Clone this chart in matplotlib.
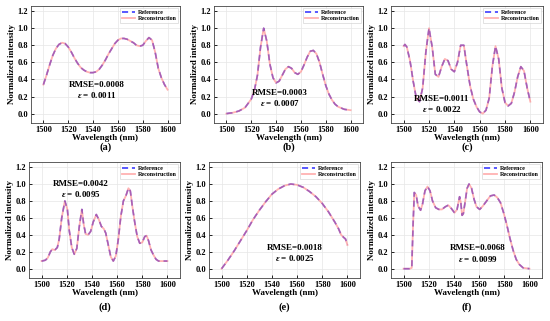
import matplotlib
matplotlib.use("Agg")
from matplotlib import pyplot as plt

plt.rcParams['font.family'] = ['Liberation Serif', 'DejaVu Serif']
plt.rcParams['font.weight'] = 'bold'
plt.rcParams['mathtext.fontset'] = 'custom'
plt.rcParams['mathtext.it'] = 'Liberation Serif:italic:bold'
plt.rcParams['mathtext.rm'] = 'Liberation Serif:bold'

# (a)
wl_a = [1500, 1502.5, 1505, 1507.5, 1510, 1512.5, 1515, 1517.5, 1520, 1522.5, 1525, 1527.5,
        1530, 1532.5, 1535, 1537.5, 1540, 1542.5, 1545, 1547.5, 1550, 1552.5, 1555, 1557.5,
        1560, 1562.5, 1565, 1567.5, 1570, 1572.5, 1575, 1577.5, 1580, 1582.5, 1585, 1587.5,
        1590, 1592.5, 1595, 1597.5, 1600]
int_a = [0.34, 0.45, 0.57, 0.68, 0.76, 0.81, 0.83, 0.82, 0.78, 0.72, 0.65, 0.59,
         0.54, 0.51, 0.49, 0.48, 0.48, 0.49, 0.52, 0.57, 0.63, 0.70, 0.76, 0.82,
         0.86, 0.88, 0.88, 0.87, 0.85, 0.83, 0.80, 0.79, 0.80, 0.85, 0.89, 0.86,
         0.72, 0.53, 0.42, 0.34, 0.28]

# (b)
wl_b = [1500, 1505, 1510, 1515, 1520, 1522.5, 1525, 1527.5, 1530, 1532.5, 1535, 1537.5,
        1540, 1542.5, 1545, 1547.5, 1550, 1552.5, 1555, 1557.5, 1560, 1562.5, 1565, 1567.5,
        1570, 1572.5, 1575, 1577.5, 1580, 1582.5, 1585, 1587.5, 1590, 1595, 1600]
int_b = [0.00, 0.01, 0.03, 0.07, 0.17, 0.27, 0.45, 0.78, 1.00, 0.85, 0.58, 0.42,
         0.36, 0.38, 0.45, 0.52, 0.55, 0.53, 0.48, 0.46, 0.49, 0.57, 0.66, 0.73,
         0.74, 0.70, 0.60, 0.46, 0.33, 0.23, 0.16, 0.11, 0.08, 0.05, 0.04]

# (c)
wl_c = [1500, 1501, 1502.5, 1505, 1507.5, 1510, 1512.5, 1515, 1517.5, 1520, 1522.5, 1525,
        1527.5, 1530, 1532.5, 1535, 1537.5, 1540, 1542.5, 1545, 1547.5, 1550, 1552.5, 1555,
        1557.5, 1560, 1562.5, 1565, 1567.5, 1570, 1572.5, 1575, 1577.5, 1580, 1582.5, 1585,
        1587.5, 1590, 1592.5, 1595, 1597.5, 1600]
int_c = [0.79, 0.81, 0.78, 0.62, 0.38, 0.18, 0.14, 0.30, 0.72, 1.00, 0.78, 0.46,
         0.43, 0.55, 0.64, 0.62, 0.52, 0.49, 0.60, 0.80, 0.80, 0.55, 0.32, 0.17,
         0.08, 0.02, 0.00, 0.04, 0.18, 0.55, 0.79, 0.64, 0.30, 0.13, 0.09, 0.12,
         0.25, 0.43, 0.55, 0.50, 0.30, 0.14]

# (d)
wl_d = [1500, 1503, 1505, 1507, 1508.5, 1510.5, 1512.5, 1514, 1516, 1518.5, 1520.5, 1522,
        1524, 1526, 1528, 1530, 1532, 1533.5, 1535, 1537, 1539, 1541, 1543.5, 1545.5,
        1547.5, 1549.5, 1551, 1553, 1555, 1557, 1559, 1561, 1563, 1565, 1567, 1569,
        1570.5, 1572, 1574, 1576, 1578, 1580, 1582, 1583.5, 1585, 1587, 1589, 1591,
        1593, 1600]
int_d = [0.09, 0.10, 0.13, 0.20, 0.23, 0.22, 0.25, 0.35, 0.60, 0.80, 0.70, 0.45,
         0.25, 0.17, 0.24, 0.50, 0.70, 0.52, 0.41, 0.40, 0.44, 0.55, 0.64, 0.58,
         0.50, 0.47, 0.42, 0.28, 0.14, 0.09, 0.15, 0.35, 0.62, 0.80, 0.86, 0.95,
         0.92, 0.75, 0.55, 0.38, 0.30, 0.31, 0.38, 0.39, 0.33, 0.22, 0.16, 0.11,
         0.09, 0.09]

# (e)
wl_e = [1500, 1505, 1510, 1515, 1520, 1525, 1530, 1535, 1540, 1545, 1550, 1555,
        1560, 1565, 1570, 1575, 1580, 1585, 1590, 1593, 1595, 1597, 1598.5, 1600]
int_e = [0.00, 0.10, 0.21, 0.33, 0.45, 0.58, 0.69, 0.79, 0.88, 0.94, 0.98, 1.00,
         0.99, 0.96, 0.91, 0.85, 0.77, 0.67, 0.55, 0.47, 0.40, 0.37, 0.35, 0.28]

# (f)
wl_f = [1500, 1505, 1506.5, 1507.5, 1508.5, 1510, 1511.5, 1513.5, 1515, 1517, 1519, 1521,
        1523, 1525.5, 1528, 1530.5, 1533, 1535.5, 1538, 1540.5, 1542.5, 1544.5, 1545.5, 1546.5,
        1547.5, 1549, 1550.5, 1552, 1554, 1556, 1558, 1560.5, 1563, 1566, 1569, 1572,
        1574.5, 1577, 1579.5, 1582, 1584.5, 1587, 1589.5, 1592, 1595, 1600]
int_f = [0.00, 0.00, 0.01, 0.50, 0.90, 0.87, 0.74, 0.69, 0.76, 0.92, 0.97, 0.92,
         0.80, 0.72, 0.70, 0.70, 0.73, 0.75, 0.71, 0.66, 0.70, 0.85, 0.78, 0.63,
         0.65, 0.80, 0.95, 1.00, 0.95, 0.82, 0.73, 0.70, 0.74, 0.80, 0.86, 0.87,
         0.84, 0.78, 0.66, 0.52, 0.36, 0.22, 0.11, 0.05, 0.01, 0.00]

rmse = ['0.0008', '0.0003', '0.0011', '0.0042', '0.0018', '0.0068']
eps = ['0.0011', '0.0007', '0.0022', '0.0095', '0.0025', '0.0099']
tags = ['(a)', '(b)', '(c)', '(d)', '(e)', '(f)']

panels = [(wl_a, int_a), (wl_b, int_b), (wl_c, int_c),
          (wl_d, int_d), (wl_e, int_e), (wl_f, int_f)]

# axes boxes in pixels: left, top, right, bottom
boxes = [(31, 6, 180, 123), (214, 6, 363, 123), (391, 6, 543, 123),
         (29, 162, 180, 278), (209, 162, 360, 278), (391, 162, 542, 278)]
# annotation centre (x, y of RMSE line)
notes = [(1543, 0.34), (1543, 0.24), (1530, 0.17), (1531, 1.0), (1558, 0.25), (1559, 0.24)]

W, H = 550, 321
fig = plt.figure(figsize=(W / 100, H / 100), dpi=100)

for i in range(6):
    l, t, r, b = boxes[i]
    ax = fig.add_axes([l / W, 1 - b / H, (r - l) / W, (b - t) / H])
    wl, val = panels[i]
    ax.plot(wl, val, color='#2b2bff', lw=1.1, ls=(0, (4, 2.5)), label='Reference')
    ax.plot(wl, val, color='#ff8080', lw=1.3, alpha=0.6, label='Reconstruction')
    ax.set_xlim(1490, 1610)
    ax.set_ylim(-0.11, 1.26)
    ax.set_xticks([1500, 1520, 1540, 1560, 1580, 1600])
    ax.set_yticks([0.0, 0.2, 0.4, 0.6, 0.8, 1.0, 1.2])
    ax.set_yticklabels(['0.0', '0.2', '0.4', '0.6', '0.8', '1.0', '1.2'])
    ax.grid(True, color='#e6e6e6', lw=0.5)
    ax.set_axisbelow(True)
    ax.tick_params(direction='in', length=2, width=0.6, labelsize=6, pad=2)
    for s in ax.spines.values():
        s.set_linewidth(0.6)
        s.set_color('#444444')
    ax.set_xlabel('Wavelength (nm)', fontsize=6.5, fontweight='bold', labelpad=0)
    ax.set_ylabel('Normalized intensity', fontsize=6.5, fontweight='bold', labelpad=1)
    leg = ax.legend(loc='upper right', fontsize=4.3, handlelength=2.2, borderpad=0.3,
                    labelspacing=0.2, handletextpad=0.4, fancybox=False,
                    borderaxespad=0.3)
    leg.get_frame().set_edgecolor('#cccccc')
    leg.get_frame().set_linewidth(0.5)
    nx, ny = notes[i]
    ax.text(nx, ny, 'RMSE=' + rmse[i], fontsize=6.5, fontweight='bold', ha='center', va='center')
    ax.text(nx, ny - 0.12, r'$\varepsilon$ = ' + eps[i], fontsize=6.5, fontweight='bold',
            ha='center', va='center')
    cx = (l + r) / 2
    ty = 147 if i < 3 else 307
    fig.text(cx / W, 1 - ty / H, tags[i], fontsize=7.5, ha='center', va='center')

fig.savefig('out.png', dpi=100)
